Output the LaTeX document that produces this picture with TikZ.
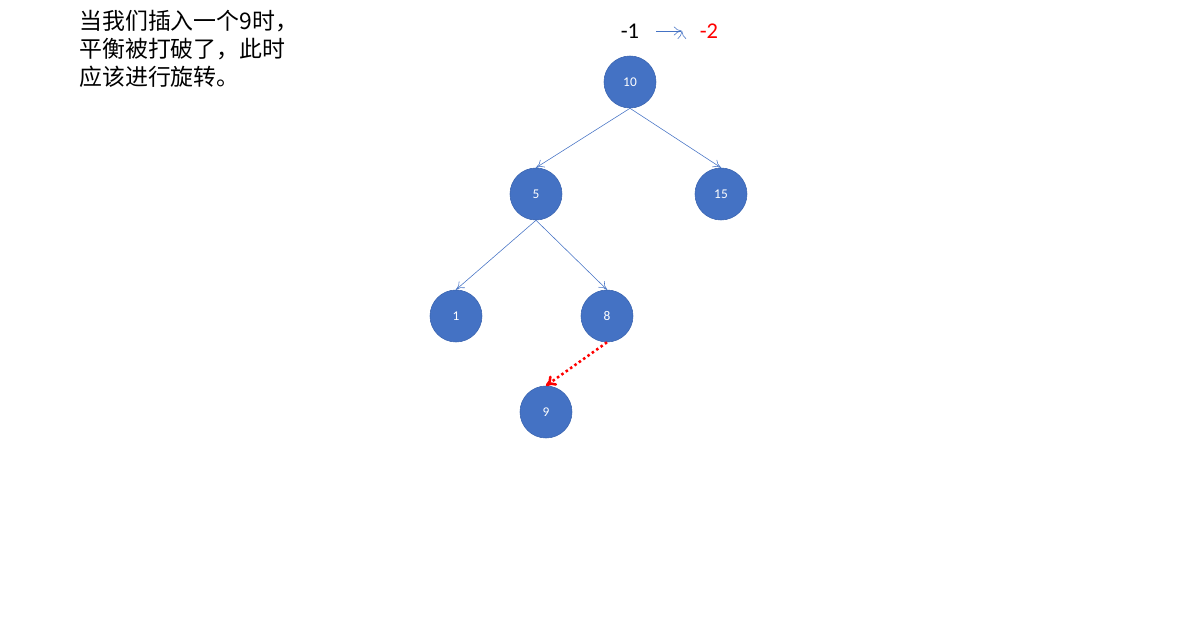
\documentclass[tikz,border=0pt]{standalone}
\usepackage{fontspec}
\setmainfont{Carlito}
\newfontfamily\cjk{Noto Sans CJK SC}
\usetikzlibrary{arrows.meta}
\definecolor{nodeblue}{HTML}{4472C4}
\definecolor{rimblue}{HTML}{3A64B0}
\tikzset{
  avl/.style={circle,fill=nodeblue,draw=rimblue,thin,minimum size=1.3cm,inner sep=0pt,
    text=white,font=\fontsize{9.5}{9.5}\selectfont},
  link/.style={draw=nodeblue,thin,-{To[length=2mm,width=2.2mm]}},
  breaklink/.style={draw=red,line width=1.8pt,dotted,-{To[length=2.5mm,width=3mm]}}
}
\begin{document}
\begin{tikzpicture}[x=0.025cm,y=-0.025cm]
\useasboundingbox (0,0) rectangle (1193,619);
\node[anchor=west,align=left,inner sep=0pt,font=\cjk\fontsize{16.3}{19.9}\selectfont] (note) at (79,49)
  {当我们插入一个9时，\\平衡被打破了，此时\\应该进行旋转。};
\node[font=\fontsize{16}{16}\selectfont] (old) at (630,31) {-1};
\node[font=\fontsize{16}{16}\selectfont,text=red] (new) at (709,31) {-2};
\draw[link] (old.east) ++(12,0) coordinate (from) (new.west) ++(-13,0) coordinate (to);
\draw[link] (from) -- (to);
% tree
\node[avl] (n10) at (630,82) {10};
\node[avl] (n5) at (536,194) {5};
\node[avl] (n15) at (721,194) {15};
\node[avl] (n1) at (456,316) {1};
\node[avl] (n8) at (607,316) {8};
\node[avl] (n9) at (546,412) {9};
\draw[link] (n10.south) -- (n5.north);
\draw[link] (n10.south) -- (n15.north);
\draw[link] (n5.south) -- (n1.north);
\draw[link] (n5.south) -- (n8.north);
\draw[breaklink] (n8.south) -- (n9.north);
\end{tikzpicture}
\end{document}
